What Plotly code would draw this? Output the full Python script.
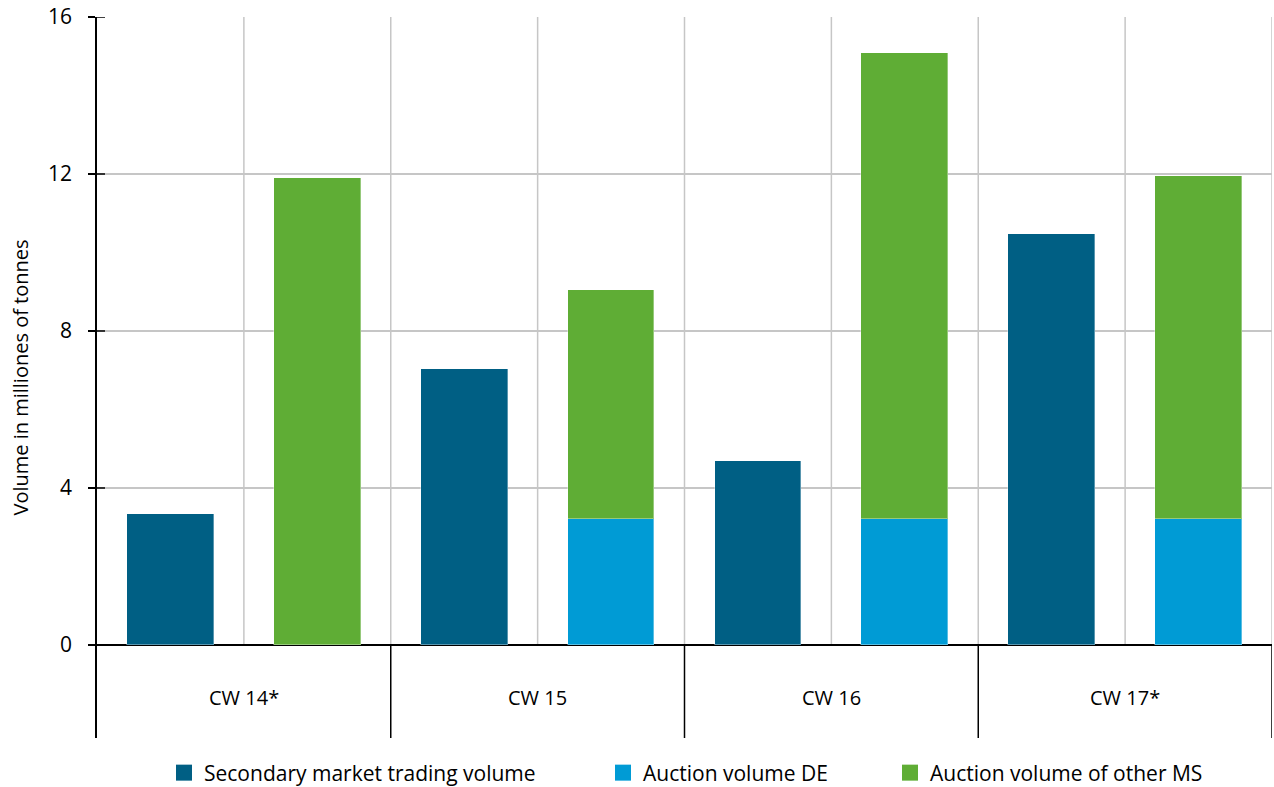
import plotly.graph_objects as go

weeks = ["CW 14*", "CW 15", "CW 16", "CW 17*"]
secondary = [3.35, 7.02, 4.68, 10.46]
auction_de = [0.0, 3.22, 3.22, 3.22]
auction_other = [11.91, 5.82, 11.86, 8.73]

series_names = ["Secondary market trading volume", "Auction volume DE", "Auction volume of other MS"]
colors = ["#005f84", "#009bd5", "#5fad35"]
yticks = [0, 4, 8, 12, 16]

YMIN, YMAX = -2.37, 16
FONT = "Open Sans"
W, H = 1274, 787

n = len(weeks)
x_sec = [2 * i + 0.5 for i in range(n)]
x_auc = [2 * i + 1.5 for i in range(n)]

fig = go.Figure()
outline = dict(width=1, color="rgba(255,255,255,0.35)")
fig.add_trace(go.Bar(x=x_sec, y=secondary, width=0.59, marker=dict(color=colors[0], line=outline),
                     name=series_names[0], showlegend=False))
fig.add_trace(go.Bar(x=x_auc, y=auction_de, width=0.59, marker=dict(color=colors[1], line=outline),
                     name=series_names[1], showlegend=False))
fig.add_trace(go.Bar(x=x_auc, y=auction_other, width=0.59, marker=dict(color=colors[2], line=outline),
                     name=series_names[2], showlegend=False))

# legend entries, each in its own legend box
legend_ids = ["legend", "legend2", "legend3"]
for nm, c, lg in zip(series_names, colors, legend_ids):
    fig.add_trace(go.Scatter(x=[None], y=[None], mode="markers", name=nm, legend=lg,
                             marker=dict(symbol="square", size=17, color=c)))

shapes = []
for k in range(1, 2 * n + 1):
    shapes.append(dict(type="line", xref="x", yref="y", x0=k, x1=k, y0=0, y1=YMAX,
                       line=dict(color="#c6c6c6", width=1.5), layer="below"))
for k in range(1, n + 1):
    shapes.append(dict(type="line", xref="x", yref="y", x0=2 * k, x1=2 * k, y0=YMIN, y1=0,
                       line=dict(color="black", width=1.5)))
for t in yticks:
    shapes.append(dict(type="line", xref="paper", yref="y", xsizemode="pixel", xanchor=0,
                       x0=0, x1=8, y0=t, y1=t, line=dict(color="black", width=1.5)))

annotations = []
for i, w in enumerate(weeks):
    annotations.append(dict(x=2 * i + 1, y=-1.33, xref="x", yref="y", text=w, showarrow=False,
                            font=dict(size=20, color="black", family=FONT)))

leg_x_px = [164, 603, 890]
leg_common = dict(orientation="h", xanchor="left", yanchor="middle", xref="container", yref="container",
                  y=1 - 773 / H, font=dict(size=21, family=FONT, color="black"), itemwidth=30,
                  bgcolor="rgba(0,0,0,0)")
legends = {}
for lg, px in zip(legend_ids, leg_x_px):
    legends[lg] = dict(x=px / W, **leg_common)

fig.update_layout(
    width=W, height=H,
    margin=dict(l=97, r=2, t=17, b=49),
    plot_bgcolor="white", paper_bgcolor="white",
    barmode="stack", bargap=0,
    font=dict(family=FONT, size=20, color="black"),
    shapes=shapes, annotations=annotations,
    showlegend=True,
    xaxis=dict(range=[0, 2 * n], showgrid=False, zeroline=False, showticklabels=False,
               ticks="", showline=False, fixedrange=True),
    yaxis=dict(range=[YMIN, YMAX], tickvals=yticks, ticktext=[str(t) for t in yticks],
               showgrid=True, gridcolor="#c6c6c6", gridwidth=1.5,
               zeroline=True, zerolinecolor="black", zerolinewidth=1.5,
               showline=True, linecolor="black", linewidth=1.5,
               ticks="outside", ticklen=7, tickwidth=1.5, tickcolor="black",
               ticklabelstandoff=12,
               tickfont=dict(size=21), title=dict(text="Volume in milliones of tonnes", font=dict(size=20), standoff=14),
               fixedrange=True),
    **legends,
)

fig.write_html("out.html", config={"displayModeBar": False},
               post_script="document.body.style.margin='0';document.body.style.overflow='hidden';")
